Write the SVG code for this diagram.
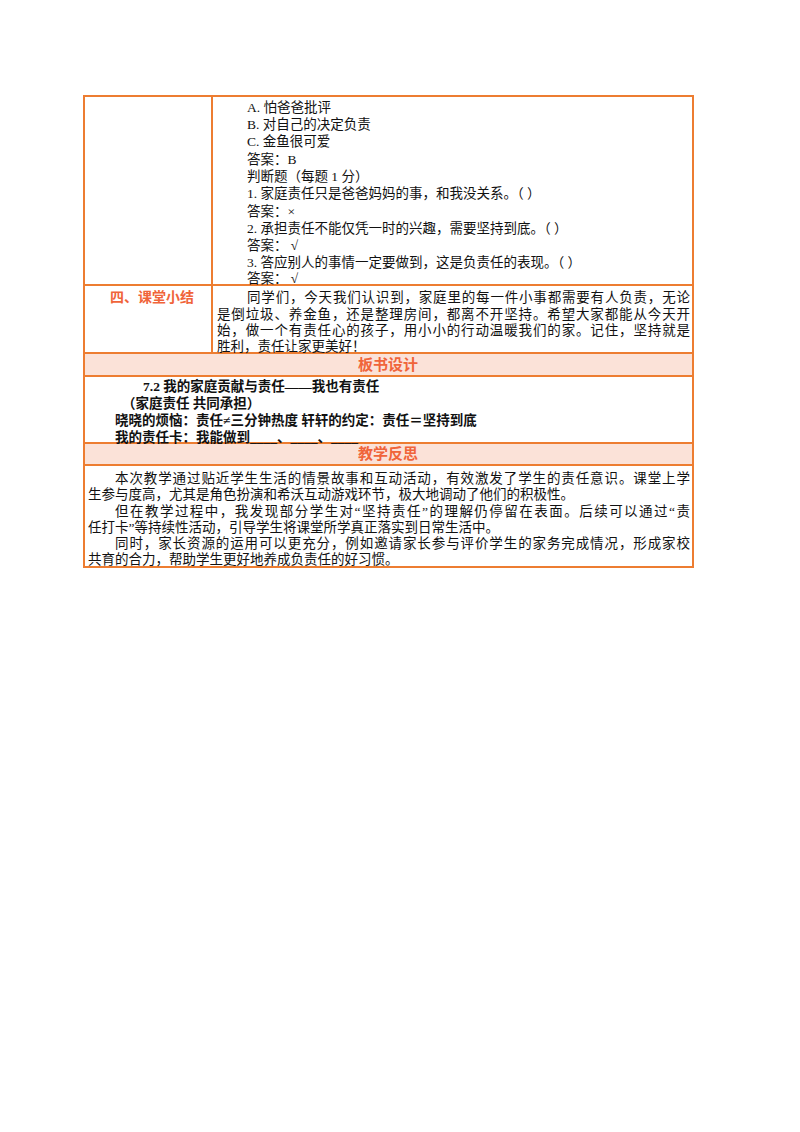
<svg xmlns="http://www.w3.org/2000/svg" width="800" height="1132" viewBox="0 0 800 1132">
<style>
.t{font-family:"Liberation Serif","Noto Sans CJK SC",serif;font-size:13.5px;fill:#111}
.b{font-family:"Liberation Serif","Noto Sans CJK SC",serif;font-size:13.5px;font-weight:bold;fill:#111}
.h{font-family:"Noto Sans CJK SC",sans-serif;font-size:15px;font-weight:bold;fill:#f0643a;text-anchor:middle}
.ln{stroke:#ed7d31;stroke-width:2;fill:none}
</style>
<rect width="800" height="1132" fill="#fff"/>
<g id="headers">
<rect x="84" y="353" width="609" height="23" fill="#fbe2d8"/>
<rect x="84" y="443" width="609" height="22" fill="#fbe2d8"/>
<text class="h" x="388" y="370">板书设计</text>
<text class="h" x="388" y="459">教学反思</text>
</g>
<g id="grid">
<rect class="ln" x="84" y="96" width="609" height="471"/>
<line class="ln" x1="212" y1="96" x2="212" y2="353"/>
<line class="ln" x1="84" y1="285" x2="693" y2="285"/>
<line class="ln" x1="84" y1="353" x2="693" y2="353"/>
<line class="ln" x1="84" y1="376" x2="693" y2="376"/>
<line class="ln" x1="84" y1="443" x2="693" y2="443"/>
<line class="ln" x1="84" y1="465" x2="693" y2="465"/>
</g>
<g id="quiz">
<text class="t" x="247" y="112">A. 怕爸爸批评</text>
<text class="t" x="247" y="129">B. 对自己的决定负责</text>
<text class="t" x="247" y="146">C. 金鱼很可爱</text>
<text class="t" x="247" y="164">答案：B</text>
<text class="t" x="247" y="181">判断题（每题 1 分）</text>
<text class="t" x="247" y="198">1. 家庭责任只是爸爸妈妈的事，和我没关系。（    ）</text>
<text class="t" x="247" y="216">答案：×</text>
<text class="t" x="247" y="233">2. 承担责任不能仅凭一时的兴趣，需要坚持到底。（    ）</text>
<text class="t" x="247" y="250">答案： √</text>
<text class="t" x="247" y="267">3. 答应别人的事情一定要做到，这是负责任的表现。（    ）</text>
<text class="t" x="247" y="283">答案： √</text>
</g>
<g id="summary">
<text class="h" x="152" y="302" style="font-size:14px">四、课堂小结</text>
<text class="t" x="247" y="302" textLength="443" lengthAdjust="spacing">同学们，今天我们认识到，家庭里的每一件小事都需要有人负责，无论</text>
<text class="t" x="217" y="319" textLength="473" lengthAdjust="spacing">是倒垃圾、养金鱼，还是整理房间，都离不开坚持。希望大家都能从今天开</text>
<text class="t" x="217" y="335" textLength="473" lengthAdjust="spacing">始，做一个有责任心的孩子，用小小的行动温暖我们的家。记住，坚持就是</text>
<text class="t" x="217" y="351">胜利，责任让家更美好！</text>
</g>
<g id="board">
<text class="b" x="143" y="391">7.2 我的家庭贡献与责任——我也有责任</text>
<text class="b" x="122" y="408">（家庭责任 共同承担）</text>
<text class="b" x="115" y="425">晓晓的烦恼：责任≠三分钟热度   轩轩的约定：责任＝坚持到底</text>
<text class="b" x="115" y="442">我的责任卡：我能做到____、____、____</text>
</g>
<g id="reflection">
<text class="t" x="115" y="483" textLength="575" lengthAdjust="spacing">本次教学通过贴近学生生活的情景故事和互动活动，有效激发了学生的责任意识。课堂上学</text>
<text class="t" x="88" y="499">生参与度高，尤其是角色扮演和希沃互动游戏环节，极大地调动了他们的积极性。</text>
<text class="t" x="115" y="516" textLength="575" lengthAdjust="spacing">但在教学过程中，我发现部分学生对“坚持责任”的理解仍停留在表面。后续可以通过“责</text>
<text class="t" x="88" y="532">任打卡”等持续性活动，引导学生将课堂所学真正落实到日常生活中。</text>
<text class="t" x="115" y="548" textLength="575" lengthAdjust="spacing">同时，家长资源的运用可以更充分，例如邀请家长参与评价学生的家务完成情况，形成家校</text>
<text class="t" x="88" y="564">共育的合力，帮助学生更好地养成负责任的好习惯。</text>
</g>
</svg>
